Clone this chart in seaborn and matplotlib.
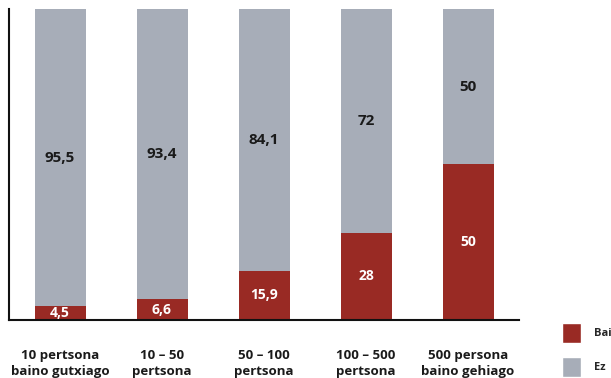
import matplotlib
matplotlib.use("Agg")
import matplotlib.pyplot as plt
import seaborn as sns
import pandas as pd
from matplotlib.patches import Patch

categories = ["10 pertsona\nbaino gutxiago", "10 – 50\npertsona", "50 – 100\npertsona",
              "100 – 500\npertsona", "500 persona\nbaino gehiago"]
bai = [4.5, 6.6, 15.9, 28, 50]
ez = [95.5, 93.4, 84.1, 72, 50]
bai_labels = ["4,5", "6,6", "15,9", "28", "50"]
ez_labels = ["95,5", "93,4", "84,1", "72", "50"]

RED = "#992A24"
GREY = "#A7ADB8"

sns.set_style("white")
plt.rcParams['font.family'] = ['Open Sans', 'DejaVu Sans']

df = pd.DataFrame({"cat": categories, "bai": bai, "ez": ez})
df["total"] = df["bai"] + df["ez"]

fig = plt.figure(figsize=(6.11, 3.78), dpi=100)
ax = fig.add_axes([9/611, 58/378, 510/611, 311/378])

sns.barplot(data=df, x="cat", y="total", color=GREY, width=0.5, ax=ax,
            saturation=1, linewidth=0)
sns.barplot(data=df, x="cat", y="bai", color=RED, width=0.5, ax=ax,
            saturation=1, linewidth=0)

for i in range(len(categories)):
    ax.text(i, bai[i] / 2, bai_labels[i], ha="center", va="center",
            color="white", fontsize=10, fontweight="bold")
    ax.text(i, bai[i] + ez[i] / 2, ez_labels[i], ha="center", va="center",
            color="#1a1a1a", fontsize=11, fontweight="bold")

ax.set_xlim(-0.5, len(categories) - 0.5)
ax.set_ylim(0, 100)
ax.set_xlabel("")
ax.set_ylabel("")
ax.set_yticks([])
ax.set_xticks(range(len(categories)))
ax.set_xticklabels(categories, fontsize=9.5, fontweight="bold", color="#1a1a1a", linespacing=1.3)
ax.tick_params(axis="x", which="major", length=0, pad=21)
ax.set_xticks([i - 0.5 for i in range(len(categories) + 1)], minor=True)
ax.tick_params(axis="x", which="minor", length=5, width=1.2, color="#222222", direction="out")

for s in ["top", "right"]:
    ax.spines[s].set_visible(False)
for s in ["left", "bottom"]:
    ax.spines[s].set_color("#111111")
    ax.spines[s].set_linewidth(1.5)

handles = [Patch(facecolor=RED, label="Bai"), Patch(facecolor=GREY, label="Ez")]
fig.legend(handles=handles, loc="lower left", bbox_to_anchor=(562/611, 1/378),
           frameon=False, handlelength=1.75, handleheight=2.45, labelspacing=1.2,
           handletextpad=1.1, borderaxespad=0, borderpad=0,
           prop={"size": 8, "weight": "bold"})

fig.savefig("out.png", dpi=100)
